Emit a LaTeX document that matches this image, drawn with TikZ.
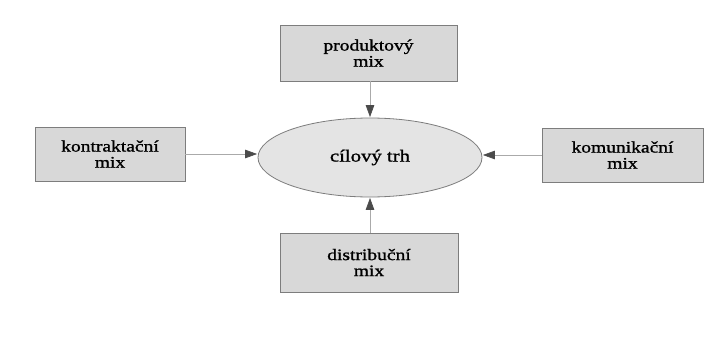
\documentclass[tikz,border=0pt]{standalone}
\usepackage{fontspec}
\setmainfont[FakeStretch=1.22,FakeBold=1.2]{Liberation Serif}
\usetikzlibrary{arrows.meta,shapes.geometric}
\definecolor{boxfill}{RGB}{216,216,216}
\definecolor{ellfill}{RGB}{228,228,228}
\definecolor{edge}{RGB}{125,125,125}
\definecolor{conn}{RGB}{170,170,170}
\definecolor{tip}{RGB}{75,75,75}
\tikzset{
  mixbox/.style={draw=edge, line width=0.8pt, fill=boxfill, align=center, inner sep=0pt,
    font=\fontsize{16}{16}\selectfont, text=black},
  target/.style={ellipse, draw=edge, line width=0.8pt, fill=ellfill, inner sep=0pt,
    minimum width=224pt, minimum height=79pt, font=\fontsize{17}{18}\selectfont, text=black},
  feed/.style={draw=conn, line width=0.7pt, -{Triangle[length=12pt,width=8.5pt,fill=tip,color=tip]}, shorten >=0.5pt}
}
\begin{document}
\begin{tikzpicture}[x=1pt,y=1pt]
\useasboundingbox (0,0) rectangle (728,-345);
\node[target] (ell) at (370,-157.5) {cílový trh};
\node[mixbox, minimum width=177pt, minimum height=56pt] (top) at (368.5,-53) {produktový\\mix};
\node[mixbox, minimum width=150pt, minimum height=54pt] (left) at (110,-154) {kontraktační\\mix};
\node[mixbox, minimum width=161pt, minimum height=54pt] (right) at (622.5,-155) {komunikační\\mix};
\node[mixbox, minimum width=178pt, minimum height=59pt] (bottom) at (369,-262.5) {distribuční\\mix};
\draw[feed] (top.south -| ell.north) -- (ell.north);
\draw[feed] (bottom.north -| ell.south) -- (ell.south);
\draw[feed] (left.east) -- (left.east -| ell.west);
\draw[feed] (right.west) -- (right.west -| ell.east);
\end{tikzpicture}
\end{document}
